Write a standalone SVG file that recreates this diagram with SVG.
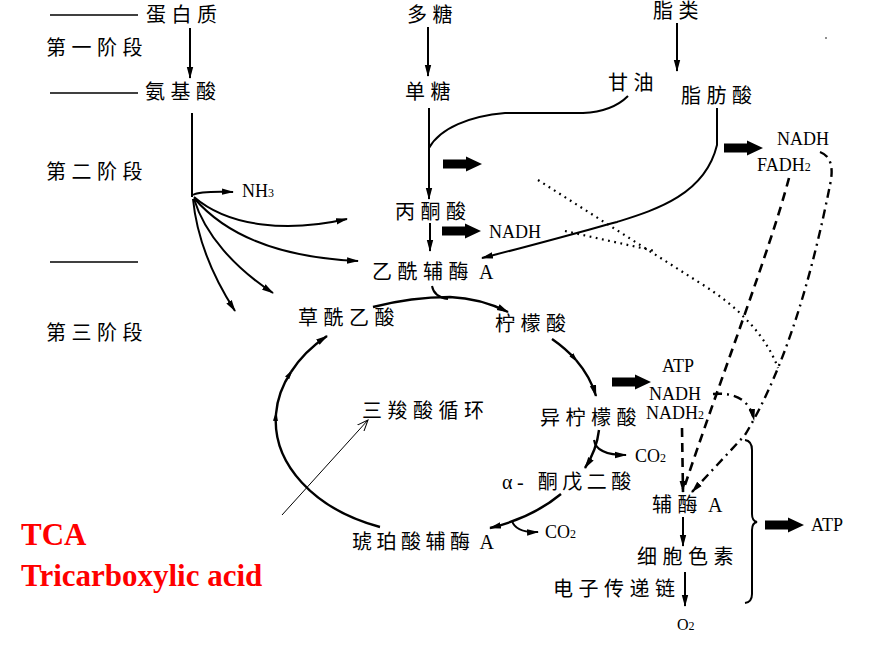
<svg xmlns="http://www.w3.org/2000/svg" width="892" height="653" viewBox="0 0 892 653">
<style>
.cn{font-family:"Liberation Serif","Noto Sans CJK SC",serif;font-size:20px;letter-spacing:5.5px;fill:#000}
.en{font-family:"Liberation Serif",serif;font-size:18px;fill:#000}
.sub{font-size:12px}
.ns{letter-spacing:0}
.red{font-family:"Liberation Serif",serif;font-size:31px;font-weight:bold;fill:#f00}
.ln{fill:none;stroke:#000;stroke-width:2}
.cy{fill:none;stroke:#000;stroke-width:2.4}
.th{fill:none;stroke:#000;stroke-width:1.5}
.thin{fill:none;stroke:#000;stroke-width:1}
.dot{fill:none;stroke:#000;stroke-width:2.2;stroke-dasharray:1.8 4.5}
.dash{fill:none;stroke:#000;stroke-width:2.6;stroke-dasharray:9 6}
.dd{fill:none;stroke:#000;stroke-width:2.4;stroke-dasharray:9 5 2 5}
</style>
<defs>
<marker id="a" viewBox="0 0 12 8" refX="11" refY="4" markerWidth="12" markerHeight="8" orient="auto" markerUnits="userSpaceOnUse"><path d="M0,0.8 L12,4 L0,7.2 Z" fill="#000"/></marker>
<marker id="s" viewBox="0 0 10 6" refX="7" refY="3" markerWidth="10" markerHeight="6" orient="auto" markerUnits="userSpaceOnUse"><path d="M0,0.5 L10,3 L0,5.5 Z" fill="#000"/></marker>
<marker id="o" viewBox="0 0 12 10" refX="11" refY="5" markerWidth="12" markerHeight="10" orient="auto" markerUnits="userSpaceOnUse"><path d="M0,0.5 L11,5 L0,9.5" fill="none" stroke="#000" stroke-width="1"/></marker>
<path id="fat" d="M0,-4.5 L23,-4.5 L23,-7.5 L39,0 L23,7.5 L23,4.5 L0,4.5 Z" fill="#000"/>
</defs>

<g id="connectors">
<line x1="50" y1="15" x2="138" y2="15" class="th"/>
<line x1="50" y1="93" x2="138" y2="93" class="th"/>
<line x1="50" y1="262" x2="138" y2="262" class="th"/>

<path class="ln" d="M190,28 L190,78" marker-end="url(#a)"/>
<path class="ln" d="M428,27 L428,76" marker-end="url(#a)"/>
<path class="ln" d="M677,23 L677,71" marker-end="url(#a)"/>
<path class="ln" d="M192,113 L192,197"/>
<path class="ln" d="M429,108 L429,199" marker-end="url(#a)"/>
<path class="ln" d="M430,223 L430,251" marker-end="url(#a)"/>
<path class="ln" d="M683,517 L683,546" marker-end="url(#a)"/>
<path class="ln" d="M685,572 L685,606" marker-end="url(#a)"/>

<path class="ln" d="M193,195 Q200,191 233,192" marker-end="url(#a)"/>
<path class="ln" d="M194,197 C230,228 290,232 347,219" marker-end="url(#a)"/>
<path class="ln" d="M194,198 C230,240 290,258 358,261" marker-end="url(#a)"/>
<path class="ln" d="M194,199 C205,235 235,268 273,293" marker-end="url(#a)"/>
<path class="ln" d="M193,199 C197,240 215,280 235,311" marker-end="url(#a)"/>

<path class="ln" d="M429,148 C440,128 470,116 505,113 L583,113 C605,112 620,104 628,96"/>
<path class="ln" d="M717,108 L717,145 C705,195 655,210 617,222 C580,232 530,246 482,258" marker-end="url(#a)"/>

<use href="#fat" x="443" y="164"/>
<use href="#fat" x="442" y="231"/>
<use href="#fat" x="724" y="148"/>
<use href="#fat" x="612" y="382"/>
<use href="#fat" x="765" y="525"/>

<path class="ln" d="M432,286 Q434,297 448,299"/>
<path class="cy" d="M373,307 C400,300 425,297 450,297 C475,298 492,304 508,312" marker-end="url(#a)"/>

<path class="cy" d="M552,339 A162,114 0 0 1 576,360" marker-end="url(#s)"/>
<path class="cy" d="M576,360 A162,114 0 0 1 596,396" marker-end="url(#a)"/>
<path class="cy" d="M599,430 A162,114 0 0 1 585,468" marker-end="url(#a)"/>
<path class="cy" d="M561,494 A162,114 0 0 1 490,528" marker-end="url(#a)"/>
<path class="cy" d="M380,527 A162,114 0 0 1 276,414" marker-end="url(#s)"/>
<path class="cy" d="M276,414 A162,114 0 0 1 291,372" marker-end="url(#s)"/>
<path class="cy" d="M291,372 A162,114 0 0 1 327,336" marker-end="url(#a)"/>

<path class="ln" d="M594,440 Q596,455 626,455" marker-end="url(#a)"/>
<path class="ln" d="M512,521 Q516,533 538,532" marker-end="url(#a)"/>

<path class="thin" d="M282,515 L368,420" marker-end="url(#o)"/>

<path class="dot" d="M538,180 L700,283 Q760,320 778,368"/>
<path class="dot" d="M565,231 L655,251"/>

<path class="dash" d="M789,178 C770,250 720,380 684,488"/>
<path class="dash" d="M682,428 L683,492" marker-end="url(#a)"/>
<path class="dd" d="M820,152 Q836,158 830,185 C815,260 790,360 745,435 L692,492" marker-end="url(#a)"/>
<path class="dd" d="M713,394 C735,392 750,400 754,420" marker-end="url(#a)"/>

<path class="ln" d="M745,440 Q752,441 752,450 L752,514 Q752,521 757,522 Q752,523 752,530 L752,594 Q752,602 745,603"/>
<circle cx="826" cy="38" r="0.8" fill="#000"/>
</g>

<g id="n-danbaizhi"><text class="cn" x="146" y="22">蛋白质</text></g>
<g id="n-stage1"><text class="cn" x="46" y="55">第一阶段</text></g>
<g id="n-anjisuan"><text class="cn" x="145" y="99">氨基酸</text></g>
<g id="n-stage2"><text class="cn" x="46" y="179">第二阶段</text></g>
<g id="n-stage3"><text class="cn" x="46" y="340">第三阶段</text></g>
<g id="n-duotang"><text class="cn" x="407" y="22">多糖</text></g>
<g id="n-dantang"><text class="cn" x="405" y="99">单糖</text></g>
<g id="n-zhilei"><text class="cn" x="653" y="18">脂类</text></g>
<g id="n-ganyou"><text class="cn" x="608" y="90">甘油</text></g>
<g id="n-zhifangsuan"><text class="cn" x="681" y="103">脂肪酸</text></g>
<g id="n-nadh1"><text class="en" x="777" y="145">NADH</text></g>
<g id="n-fadh2"><text class="en" x="757" y="171">FADH<tspan class="sub">2</tspan></text></g>
<g id="n-nh3"><text class="en" x="242" y="197">NH<tspan class="sub">3</tspan></text></g>
<g id="n-bingtongsuan"><text class="cn" x="395" y="219">丙酮酸</text></g>
<g id="n-nadh2"><text class="en" x="489" y="238">NADH</text></g>
<g id="n-acetylcoa"><text class="cn" x="372" y="279">乙酰辅酶<tspan class="ns"> A</tspan></text></g>
<g id="n-oaa"><text class="cn" x="298" y="325">草酰乙酸</text></g>
<g id="n-citrate"><text class="cn" x="495" y="331">柠檬酸</text></g>
<g id="n-tca"><text class="cn" x="362" y="418">三羧酸循环</text></g>
<g id="n-isocitrate"><text class="cn" x="540" y="425">异柠檬酸</text></g>
<g id="n-atp1"><text class="en" x="662" y="372">ATP</text></g>
<g id="n-nadh3"><text class="en" x="649" y="400">NADH</text></g>
<g id="n-nadh4"><text class="en" x="646" y="419">NADH<tspan class="sub">2</tspan></text></g>
<g id="n-co2a"><text class="en" x="635" y="462">CO<tspan class="sub">2</tspan></text></g>
<g id="n-akg"><text class="cn" x="502" y="489" style="letter-spacing:4.5px">α- 酮戊二酸</text></g>
<g id="n-coa"><text class="cn" x="652" y="512">辅酶<tspan class="ns"> A</tspan></text></g>
<g id="n-atp2"><text class="en" x="811" y="531">ATP</text></g>
<g id="n-succoa"><text class="cn" x="352" y="549" style="letter-spacing:4.5px">琥珀酸辅酶<tspan class="ns"> A</tspan></text></g>
<g id="n-co2b"><text class="en" x="545" y="538">CO<tspan class="sub">2</tspan></text></g>
<g id="n-cyt"><text class="cn" x="637" y="564">细胞色素</text></g>
<g id="n-etc"><text class="cn" x="553" y="596">电子传递链</text></g>
<g id="n-o2"><text class="en" x="677" y="630" style="font-size:16px">O<tspan class="sub">2</tspan></text></g>
<g id="n-tca-en"><text class="red" x="21" y="545">TCA</text></g>
<g id="n-tca-full"><text class="red" x="21" y="586">Tricarboxylic acid</text></g>
</svg>
